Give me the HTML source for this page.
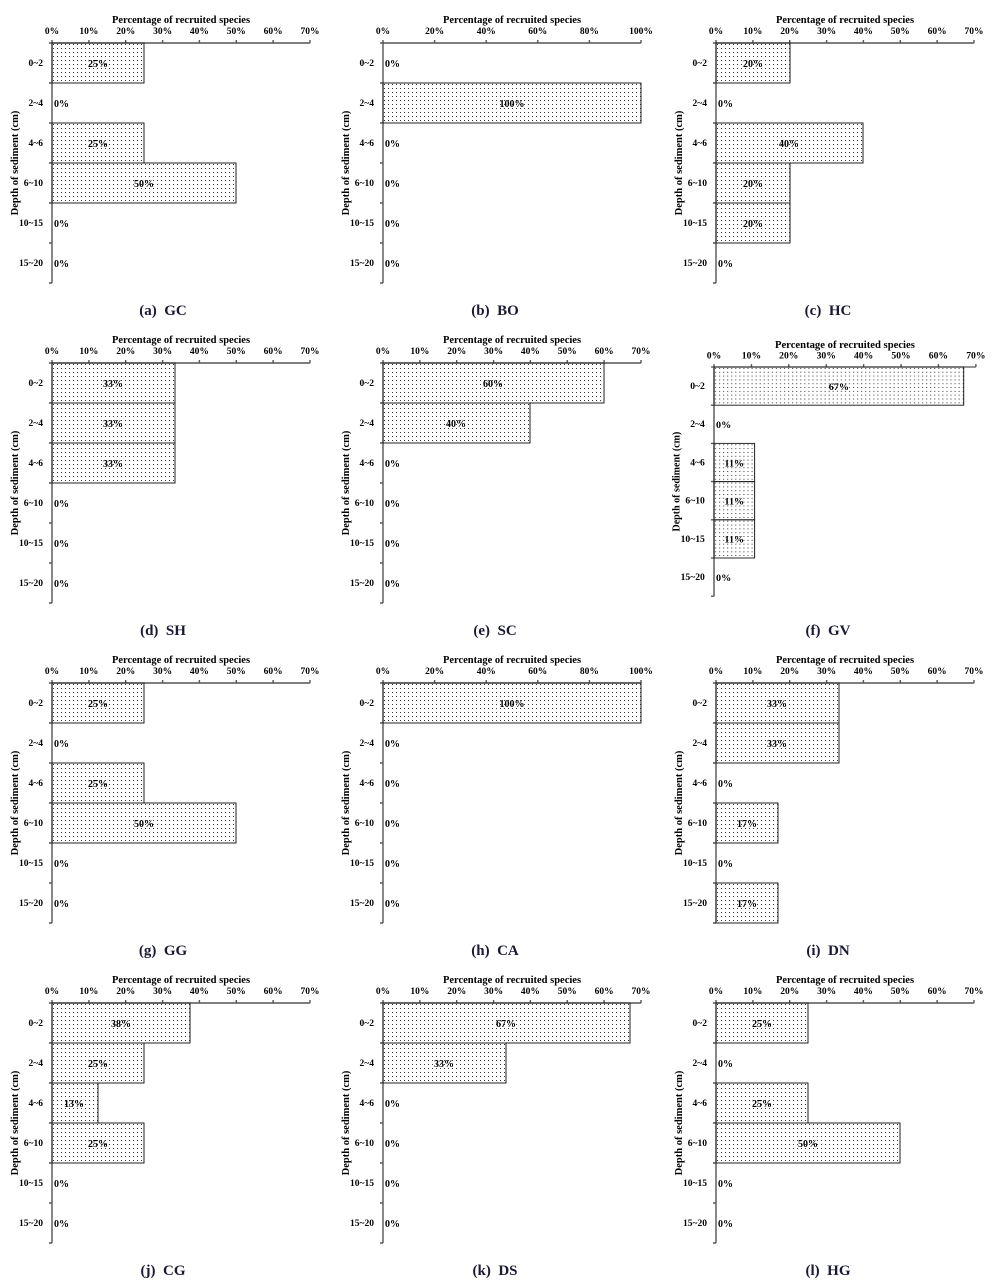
<!DOCTYPE html>
<html><head><meta charset="utf-8"><style>
body{margin:0;background:#fff}
svg{display:block;font-family:"Liberation Serif",serif;font-weight:bold}
.t{font-size:10.5px;text-anchor:middle}
.k{font-size:9.5px;text-anchor:middle}
.l{font-size:9.5px;text-anchor:end}
.z{font-size:10px}
.v{font-size:10px;text-anchor:middle}
.y{font-size:10.5px;text-anchor:middle}
.c{font-size:15px;text-anchor:middle;fill:#1a1a33}
.ax{stroke:#555;stroke-width:1.4;fill:none}
.b{fill:url(#d);stroke:#222;stroke-width:1}
</style></head><body>
<svg width="997" height="1284" viewBox="0 0 997 1284">
<defs>
<pattern id="d" width="4" height="4" patternUnits="userSpaceOnUse"><rect x="1" y="1" width="1" height="1" fill="#333"/></pattern>
<g id="ax70">
<text class="t" x="129" y="-20">Percentage of recruited species</text>
<text class="k" x="0" y="-9">0%</text><text class="k" x="36.9" y="-9">10%</text><text class="k" x="73.7" y="-9">20%</text><text class="k" x="110.6" y="-9">30%</text><text class="k" x="147.4" y="-9">40%</text><text class="k" x="184.3" y="-9">50%</text><text class="k" x="221.1" y="-9">60%</text><text class="k" x="258" y="-9">70%</text>
<path class="ax" d="M0,0H258M0,-3V0M36.9,-3V0M73.7,-3V0M110.6,-3V0M147.4,-3V0M184.3,-3V0M221.1,-3V0M258,-3V0"/>
</g>
<g id="ax100">
<text class="t" x="129" y="-20">Percentage of recruited species</text>
<text class="k" x="0" y="-9">0%</text><text class="k" x="51.6" y="-9">20%</text><text class="k" x="103.2" y="-9">40%</text><text class="k" x="154.8" y="-9">60%</text><text class="k" x="206.4" y="-9">80%</text><text class="k" x="258" y="-9">100%</text>
<path class="ax" d="M0,0H258M0,-3V0M51.6,-3V0M103.2,-3V0M154.8,-3V0M206.4,-3V0M258,-3V0"/>
</g>
<g id="yax">
<path class="ax" d="M0,0V240M-3,0H0M-3,40H0M-3,80H0M-3,120H0M-3,160H0M-3,200H0M-3,240H0"/>
<text class="l" x="-9" y="23">0~2</text><text class="l" x="-9" y="63">2~4</text><text class="l" x="-9" y="103">4~6</text><text class="l" x="-9" y="143">6~10</text><text class="l" x="-9" y="183">10~15</text><text class="l" x="-9" y="223">15~20</text>
<text class="y" transform="translate(-34,120) rotate(-90)">Depth of sediment (cm)</text>
</g>
</defs>

<g transform="translate(52,43)"><use href="#ax70"/><use href="#yax"/>
<rect class="b" x="0" y="0" width="92" height="40"/><rect class="b" x="0" y="80" width="92" height="40"/><rect class="b" x="0" y="120" width="184" height="40"/>
<text class="v" x="46" y="24">25%</text><text class="v" x="46" y="104">25%</text><text class="v" x="92" y="144">50%</text>
<text class="z" x="2" y="64">0%</text><text class="z" x="2" y="184">0%</text><text class="z" x="2" y="224">0%</text></g>
<g transform="translate(383,43)"><use href="#ax100"/><use href="#yax"/>
<rect class="b" x="0" y="40" width="258" height="40"/>
<text class="v" x="129" y="64">100%</text>
<text class="z" x="2" y="24">0%</text><text class="z" x="2" y="104">0%</text><text class="z" x="2" y="144">0%</text><text class="z" x="2" y="184">0%</text><text class="z" x="2" y="224">0%</text></g>
<g transform="translate(716,43)"><use href="#ax70"/><use href="#yax"/>
<rect class="b" x="0" y="0" width="74" height="40"/><rect class="b" x="0" y="80" width="147" height="40"/><rect class="b" x="0" y="120" width="74" height="40"/><rect class="b" x="0" y="160" width="74" height="40"/>
<text class="v" x="37" y="24">20%</text><text class="v" x="73" y="104">40%</text><text class="v" x="37" y="144">20%</text><text class="v" x="37" y="184">20%</text>
<text class="z" x="2" y="64">0%</text><text class="z" x="2" y="224">0%</text></g>

<g transform="translate(52,363)"><use href="#ax70"/><use href="#yax"/>
<rect class="b" x="0" y="0" width="123" height="40"/><rect class="b" x="0" y="40" width="123" height="40"/><rect class="b" x="0" y="80" width="123" height="40"/>
<text class="v" x="61" y="24">33%</text><text class="v" x="61" y="64">33%</text><text class="v" x="61" y="104">33%</text>
<text class="z" x="2" y="144">0%</text><text class="z" x="2" y="184">0%</text><text class="z" x="2" y="224">0%</text></g>
<g transform="translate(383,363)"><use href="#ax70"/><use href="#yax"/>
<rect class="b" x="0" y="0" width="221" height="40"/><rect class="b" x="0" y="40" width="147" height="40"/>
<text class="v" x="110" y="24">60%</text><text class="v" x="73" y="64">40%</text>
<text class="z" x="2" y="104">0%</text><text class="z" x="2" y="144">0%</text><text class="z" x="2" y="184">0%</text><text class="z" x="2" y="224">0%</text></g>
<g transform="translate(714,367) scale(1.015,0.955)"><use href="#ax70"/><use href="#yax"/>
<rect class="b" x="0" y="0" width="246" height="40"/><rect class="b" x="0" y="80" width="40" height="40"/><rect class="b" x="0" y="120" width="40" height="40"/><rect class="b" x="0" y="160" width="40" height="40"/>
<text class="v" x="123" y="24">67%</text><text class="v" x="20" y="104">11%</text><text class="v" x="20" y="144">11%</text><text class="v" x="20" y="184">11%</text>
<text class="z" x="2" y="64">0%</text><text class="z" x="2" y="224">0%</text></g>

<g transform="translate(52,683)"><use href="#ax70"/><use href="#yax"/>
<rect class="b" x="0" y="0" width="92" height="40"/><rect class="b" x="0" y="80" width="92" height="40"/><rect class="b" x="0" y="120" width="184" height="40"/>
<text class="v" x="46" y="24">25%</text><text class="v" x="46" y="104">25%</text><text class="v" x="92" y="144">50%</text>
<text class="z" x="2" y="64">0%</text><text class="z" x="2" y="184">0%</text><text class="z" x="2" y="224">0%</text></g>
<g transform="translate(383,683)"><use href="#ax100"/><use href="#yax"/>
<rect class="b" x="0" y="0" width="258" height="40"/>
<text class="v" x="129" y="24">100%</text>
<text class="z" x="2" y="64">0%</text><text class="z" x="2" y="104">0%</text><text class="z" x="2" y="144">0%</text><text class="z" x="2" y="184">0%</text><text class="z" x="2" y="224">0%</text></g>
<g transform="translate(716,683)"><use href="#ax70"/><use href="#yax"/>
<rect class="b" x="0" y="0" width="123" height="40"/><rect class="b" x="0" y="40" width="123" height="40"/><rect class="b" x="0" y="120" width="62" height="40"/><rect class="b" x="0" y="200" width="62" height="40"/>
<text class="v" x="61" y="24">33%</text><text class="v" x="61" y="64">33%</text><text class="v" x="31" y="144">17%</text><text class="v" x="31" y="224">17%</text>
<text class="z" x="2" y="104">0%</text><text class="z" x="2" y="184">0%</text></g>

<g transform="translate(52,1003)"><use href="#ax70"/><use href="#yax"/>
<rect class="b" x="0" y="0" width="138" height="40"/><rect class="b" x="0" y="40" width="92" height="40"/><rect class="b" x="0" y="80" width="46" height="40"/><rect class="b" x="0" y="120" width="92" height="40"/>
<text class="v" x="69" y="24">38%</text><text class="v" x="46" y="64">25%</text><text class="v" x="22" y="104">13%</text><text class="v" x="46" y="144">25%</text>
<text class="z" x="2" y="184">0%</text><text class="z" x="2" y="224">0%</text></g>
<g transform="translate(383,1003)"><use href="#ax70"/><use href="#yax"/>
<rect class="b" x="0" y="0" width="247" height="40"/><rect class="b" x="0" y="40" width="123" height="40"/>
<text class="v" x="123" y="24">67%</text><text class="v" x="61" y="64">33%</text>
<text class="z" x="2" y="104">0%</text><text class="z" x="2" y="144">0%</text><text class="z" x="2" y="184">0%</text><text class="z" x="2" y="224">0%</text></g>
<g transform="translate(716,1003)"><use href="#ax70"/><use href="#yax"/>
<rect class="b" x="0" y="0" width="92" height="40"/><rect class="b" x="0" y="80" width="92" height="40"/><rect class="b" x="0" y="120" width="184" height="40"/>
<text class="v" x="46" y="24">25%</text><text class="v" x="46" y="104">25%</text><text class="v" x="92" y="144">50%</text>
<text class="z" x="2" y="64">0%</text><text class="z" x="2" y="184">0%</text><text class="z" x="2" y="224">0%</text></g>

<text class="c" x="163" y="315">(a)&#160;&#160;GC</text>
<text class="c" x="495" y="315">(b)&#160;&#160;BO</text>
<text class="c" x="828" y="315">(c)&#160;&#160;HC</text>
<text class="c" x="163" y="635">(d)&#160;&#160;SH</text>
<text class="c" x="495" y="635">(e)&#160;&#160;SC</text>
<text class="c" x="828" y="635">(f)&#160;&#160;GV</text>
<text class="c" x="163" y="955">(g)&#160;&#160;GG</text>
<text class="c" x="495" y="955">(h)&#160;&#160;CA</text>
<text class="c" x="828" y="955">(i)&#160;&#160;DN</text>
<text class="c" x="163" y="1275">(j)&#160;&#160;CG</text>
<text class="c" x="495" y="1275">(k)&#160;&#160;DS</text>
<text class="c" x="828" y="1275">(l)&#160;&#160;HG</text>
</svg>
</body></html>
